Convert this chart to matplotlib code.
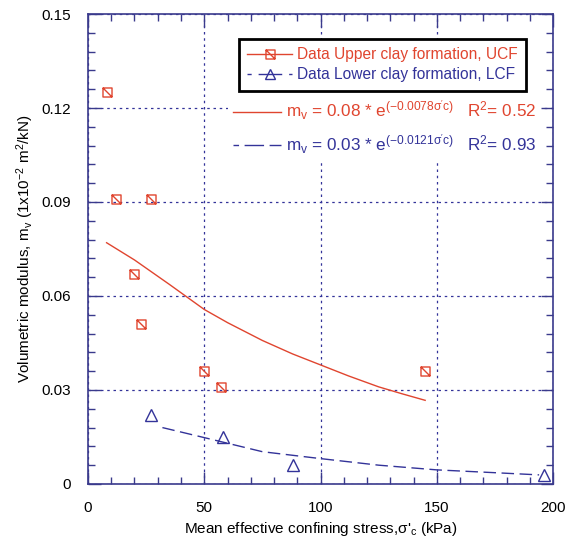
import matplotlib
matplotlib.use("Agg")
import matplotlib.pyplot as plt
from matplotlib.lines import Line2D
from matplotlib.path import Path
from matplotlib.ticker import MultipleLocator

plt.rcParams['font.family'] = ['Liberation Sans', 'DejaVu Sans']
plt.rcParams['mathtext.fontset'] = 'custom'
plt.rcParams['mathtext.rm'] = 'Liberation Sans'
plt.rcParams['mathtext.it'] = 'Liberation Sans'
plt.rcParams['mathtext.default'] = 'regular'

# data
ucf_x = [8, 12, 27, 20, 23, 50, 57, 145]
ucf_y = [0.125, 0.091, 0.091, 0.067, 0.051, 0.036, 0.031, 0.036]
lcf_x = [27, 58, 88, 196]
lcf_y = [0.022, 0.015, 0.006, 0.003]

# fitted curves (traced)
ucf_fit_x = [8, 20, 35, 50, 60, 75, 88, 100, 112, 125, 135, 145]
ucf_fit_y = [0.077, 0.0715, 0.0637, 0.0557, 0.0515, 0.0458, 0.0415, 0.038, 0.0345,
             0.031, 0.0288, 0.0267]
lcf_fit_x = [32, 50, 75, 100, 125, 150, 175, 194]
lcf_fit_y = [0.018, 0.0148, 0.0103, 0.0081, 0.006, 0.0045, 0.0036, 0.0029]

red = '#e0452f'
navy = '#333399'
spine = '#3a3a8c'

# square with one diagonal
sq = Path([(-1, -1), (1, -1), (1, 1), (-1, 1), (-1, -1), (-1, 1), (1, -1)],
          [Path.MOVETO, Path.LINETO, Path.LINETO, Path.LINETO, Path.CLOSEPOLY,
           Path.MOVETO, Path.LINETO])

fig = plt.figure(figsize=(5.77, 5.43), dpi=100)
ax = fig.add_axes([0.1525, 0.1087, 0.806, 0.8655])

ax.plot(ucf_fit_x, ucf_fit_y, color=red, lw=1.0, zorder=3)
ax.plot(lcf_fit_x, lcf_fit_y, color=navy, lw=1.0, dashes=(9, 4), zorder=3)
ax.plot(ucf_x, ucf_y, ls='none', marker=sq, ms=6.5, mfc='none', mec=red, mew=1.0, zorder=4)
ax.plot(lcf_x, lcf_y, ls='none', marker='^', ms=8, mfc='none', mec=navy, mew=1.0, zorder=4)

ax.set_xlim(0, 200)
ax.set_ylim(0, 0.15)
ax.xaxis.set_minor_locator(MultipleLocator(10))
ax.yaxis.set_minor_locator(MultipleLocator(0.006))
ax.set_yticks([0, 0.03, 0.06, 0.09, 0.12, 0.15])
ax.set_yticklabels(['0', '0.03', '0.06', '0.09', '0.12', '0.15'])
ax.set_xticks([0, 50, 100, 150, 200])
ax.set_xticklabels(['0', '50', '100', '150', '200'])

ax.tick_params(which='both', direction='in', top=True, right=True, color=spine,
               labelsize=11, pad=12)
ax.tick_params(which='major', length=9, width=1)
ax.tick_params(which='minor', length=5, width=1)
for s in ax.spines.values():
    s.set_color(spine)
    s.set_linewidth(1.2)

ax.grid(True, which='major', color=navy, ls=(0, (2, 3)), lw=0.9)
ax.set_axisbelow(True)

ax.set_xlabel("Mean effective confining stress,σ'$_c$ (kPa)", fontsize=11, labelpad=4)
ax.set_ylabel("Volumetric modulus, m$_v$ (1x10$^{-2}$ m$^2$/kN)", fontsize=11, labelpad=4)

# data legend
h1 = Line2D([], [], color=red, lw=1.0, marker=sq, ms=6.5, mfc='none', mec=red)
h2 = Line2D([], [], color=navy, lw=1.0, dashes=(3, 5, 14, 0), marker='^', ms=7,
            mfc='none', mec=navy)
leg1 = ax.legend([h1, h2], ['Data Upper clay formation, UCF', 'Data Lower clay formation, LCF'],
                 loc='upper right', bbox_to_anchor=(0.942, 0.947), fontsize=11.2,
                 fancybox=False, edgecolor='black', framealpha=1, handlelength=2.9,
                 handletextpad=0.3, borderpad=0.55, labelspacing=0.3,
                 borderaxespad=0, labelcolor=[red, navy])
leg1.get_frame().set_linewidth(2)
ax.add_artist(leg1)

# fit legend
f1 = Line2D([], [], color=red, lw=1.0)
f2 = Line2D([], [], color=navy, lw=1.0, dashes=(4, 4, 10, 0))
lab1 = "m$_v$ = 0.08 * e$^{(-0.0078σ'c)}$   R$^2$= 0.52"
lab2 = "m$_v$ = 0.03 * e$^{(-0.0121σ'c)}$   R$^2$= 0.93"
leg2 = ax.legend([f1, f2], [lab1, lab2], loc='upper right', bbox_to_anchor=(0.975, 0.83),
                 fontsize=12.3, frameon=True, edgecolor='none', facecolor='white',
                 framealpha=1, handlelength=2.8, handletextpad=0.3, borderpad=0.3,
                 labelspacing=0.6, borderaxespad=0, labelcolor=[red, navy])

fig.savefig('out.png', dpi=100)
